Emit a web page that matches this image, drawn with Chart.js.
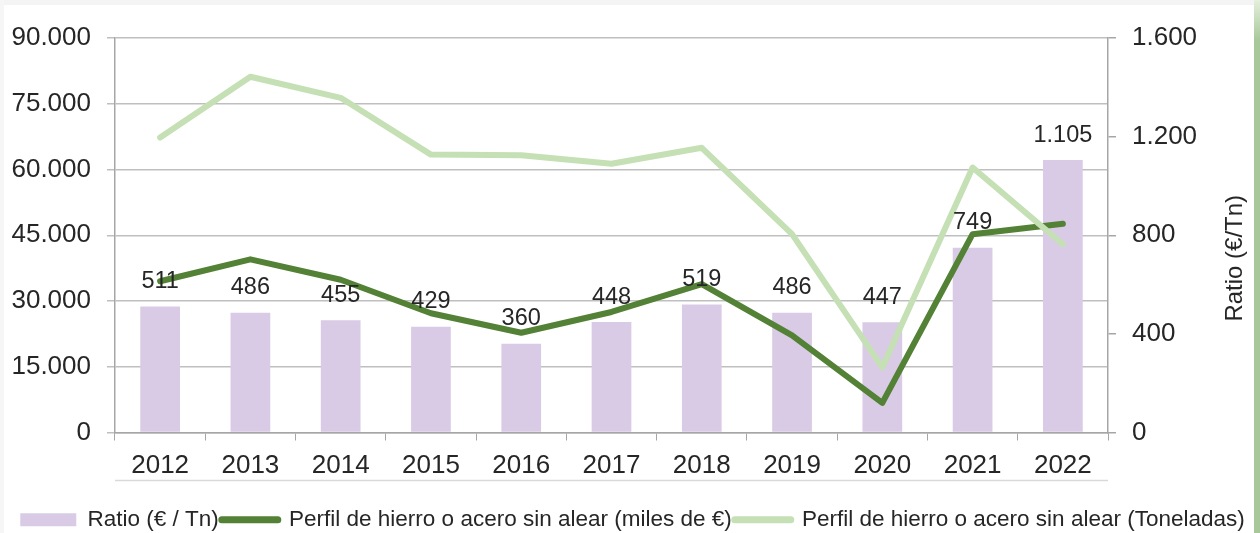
<!DOCTYPE html>
<html>
<head>
<meta charset="utf-8">
<script src="https://cdn.jsdelivr.net/npm/chart.js@4"></script>
<style>
  html, body { margin: 0; padding: 0; background: #ffffff; }
  #wrap { position: relative; width: 1260px; height: 533px; background: #fff; }
  #topband { position: absolute; left: 0; top: 0; width: 1254px; height: 5px; background: #f4f4f4; }
  #leftband { position: absolute; left: 0; top: 0; width: 4px; height: 533px; background: #f6f6f6; }
  #strip { position: absolute; left: 1254px; top: 0; width: 6px; height: 533px;
           background: linear-gradient(#e4efdd, #a9c89a 40px, #a9c89a); }
  #steelChart { position: absolute; left: 0; top: 0; }
</style>
</head>
<body>
<div id="wrap">
  <div id="topband"></div>
  <div id="leftband"></div>
  <div id="strip"></div>
  <canvas id="steelChart" width="1250" height="533"></canvas>
</div>
<script>
        // Data
        const years = ['2012', '2013', '2014', '2015', '2016', '2017', '2018', '2019', '2020', '2021', '2022'];
        const ratio = [511, 486, 455, 429, 360, 448, 519, 486, 447, 749, 1105];
        const milesEuros = [34500, 39500, 34850, 27200, 22750, 27500, 33850, 22150, 6750, 45250, 47600];
        const toneladas = [67300, 81150, 76350, 63400, 63250, 61300, 64950, 45250, 14850, 60450, 42950];

        const leftTicks = [0, 15000, 30000, 45000, 60000, 75000, 90000];
        const rightTicks = [0, 400, 800, 1200, 1600];
        const rightTitle = 'Ratio (€/Tn)';

        // Spanish style thousands separator
        function fmt(v) {
            return String(Math.round(v)).replace(/\B(?=(\d{3})+(?!\d))/g, '.');
        }

        const FONT = "'Liberation Sans', Arial, sans-serif";
        const TEXT = '#262626';

        // Labels above the bars, right axis title, thin line under the category labels
        const extras = {
            id: 'extras',
            afterDatasetsDraw(chart) {
                const ctx = chart.ctx;
                const meta = chart.getDatasetMeta(0);
                const a = chart.chartArea;
                ctx.save();
                ctx.font = '23.5px ' + FONT;
                ctx.fillStyle = TEXT;
                ctx.textAlign = 'center';
                ctx.textBaseline = 'middle';
                meta.data.forEach((bar, i) => {
                    ctx.fillText(fmt(ratio[i]), bar.x, bar.y - 25);
                });

                ctx.save();
                ctx.font = '24px ' + FONT;
                ctx.translate(chart.width - 15, (a.top + a.bottom) / 2 + 23);
                ctx.rotate(-Math.PI / 2);
                ctx.fillText(rightTitle, 0, 0);
                ctx.restore();

                ctx.strokeStyle = '#d9d9d9';
                ctx.lineWidth = 1.5;
                ctx.beginPath();
                ctx.moveTo(a.left, a.bottom + 48);
                ctx.lineTo(a.right, a.bottom + 48);
                ctx.stroke();
                ctx.restore();
            }
        };

        const ctx = document.getElementById('steelChart').getContext('2d');

        new Chart(ctx, {
            type: 'bar',
            data: {
                labels: years,
                datasets: [{
                    type: 'bar',
                    label: 'Ratio (€ / Tn)',
                    data: ratio,
                    backgroundColor: '#d9cbe5',
                    yAxisID: 'y1',
                    barPercentage: 0.44,
                    categoryPercentage: 1,
                    order: 3
                }, {
                    type: 'line',
                    label: 'Perfil de hierro o acero sin alear (miles de €)',
                    data: milesEuros,
                    borderColor: '#538135',
                    backgroundColor: '#538135',
                    borderWidth: 6,
                    pointRadius: 0,
                    borderJoinStyle: 'round',
                    borderCapStyle: 'round',
                    tension: 0,
                    yAxisID: 'y',
                    order: 2
                }, {
                    type: 'line',
                    label: 'Perfil de hierro o acero sin alear (Toneladas)',
                    data: toneladas,
                    borderColor: '#c5e0b4',
                    backgroundColor: '#c5e0b4',
                    borderWidth: 6,
                    pointRadius: 0,
                    borderJoinStyle: 'round',
                    borderCapStyle: 'round',
                    tension: 0,
                    yAxisID: 'y',
                    order: 1
                }]
            },
            options: {
                responsive: false,
                animation: false,
                layout: { padding: { top: 38, left: 0, right: -15, bottom: -8 } },
                plugins: {
                    tooltip: { enabled: false },
                    legend: {
                        position: 'bottom',
                        labels: {
                            usePointStyle: true,
                            pointStyleWidth: 56,
                            boxHeight: 13,
                            padding: 3,
                            color: TEXT,
                            font: { family: FONT, size: 22.5 },
                            generateLabels(chart) {
                                return chart.data.datasets.map((ds, i) => ({
                                    text: ds.label,
                                    fillStyle: ds.backgroundColor,
                                    strokeStyle: ds.type === 'bar' ? ds.backgroundColor : ds.borderColor,
                                    lineWidth: ds.type === 'bar' ? 0 : 7,
                                    lineCap: 'round',
                                    pointStyle: ds.type === 'bar' ? 'rect' : 'line',
                                    fontColor: TEXT,
                                    datasetIndex: i
                                }));
                            }
                        }
                    }
                },
                scales: {
                    x: {
                        offset: true,
                        grid: {
                            offset: true,
                            drawOnChartArea: false,
                            tickLength: 8,
                            color: '#a6a6a6'
                        },
                        border: { color: '#a6a6a6', width: 1.5 },
                        ticks: {
                            color: TEXT,
                            padding: 10,
                            maxRotation: 0,
                            font: { family: FONT, size: 26 }
                        },
                        afterFit(scale) { scale.height = 73; }
                    },
                    y: {
                        position: 'left',
                        min: 0,
                        max: 90000,
                        afterBuildTicks(scale) { scale.ticks = leftTicks.map(v => ({ value: v })); },
                        grid: { color: '#bfbfbf', lineWidth: 1.5, tickLength: 8 },
                        border: { color: '#a6a6a6', width: 1.5 },
                        ticks: {
                            color: TEXT,
                            padding: 16,
                            font: { family: FONT, size: 26 },
                            callback: v => fmt(v)
                        },
                        afterFit(scale) { scale.width = 115; }
                    },
                    y1: {
                        position: 'right',
                        min: 0,
                        max: 1600,
                        afterBuildTicks(scale) { scale.ticks = rightTicks.map(v => ({ value: v })); },
                        grid: { drawOnChartArea: false, color: '#a6a6a6', lineWidth: 1.5, tickLength: 8 },
                        border: { color: '#a6a6a6', width: 1.5 },
                        ticks: {
                            color: TEXT,
                            padding: 16,
                            font: { family: FONT, size: 26 },
                            callback: v => fmt(v)
                        },
                        afterFit(scale) { scale.width = 157; }
                    }
                }
            },
            plugins: [extras]
        });
</script>
</body>
</html>
